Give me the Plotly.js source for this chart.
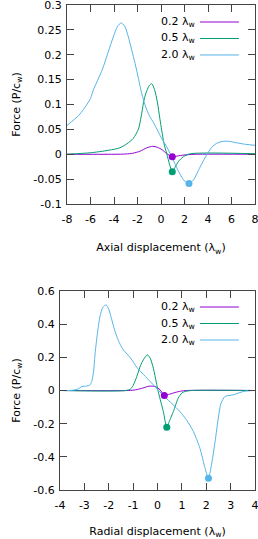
<!DOCTYPE html>
<html><head><meta charset="utf-8">
<script src="https://cdn.plot.ly/plotly-3.0.1.min.js"></script>
<style>html,body{margin:0;padding:0;background:#fff;}#chart{width:258px;height:539px;}</style>
</head><body><div id="chart"></div>
<script>
// ---- Axial (top panel) ----
const axialX02 = [-8, -4, -3, -2.4, -1.8, -1.2, -0.7, -0.3, 0.1, 0.5, 0.96, 1.5, 2.2, 3, 8];
const axialY02 = [0, 0, 0.0005, 0.002, 0.006, 0.013, 0.016, 0.014, 0.009, 0.001, -0.005, -0.003, -0.001, 0, 0];
const axialX05 = [-8, -6, -5, -4, -3.5, -2.9, -2.36, -1.93, -1.64, -1.45, -1.2, -1.0, -0.79, -0.55, -0.31, -0.1, 0.06, 0.25, 0.5, 0.75, 0.96, 1.2, 1.5, 1.9, 2.5, 8];
const axialY05 = [0, 0.003, 0.006, 0.01, 0.013, 0.021, 0.032, 0.05, 0.082, 0.109, 0.128, 0.138, 0.142, 0.13, 0.105, 0.072, 0.048, 0.022, 0.0, -0.022, -0.035, -0.026, -0.014, -0.005, 0.001, 0.001];
const axialX20 = [-8, -7, -6.6, -6, -5.76, -5, -4.5, -4.06, -3.7, -3.4, -3.1, -2.78, -2.5, -2.2, -1.9, -1.64, -1.3, -1.0, -0.6, -0.23, 0.1, 0.49, 1.05, 1.4, 1.76, 2.1, 2.38, 2.75, 3.32, 3.94, 4.4, 4.74, 5.3, 5.8, 6.44, 7.2, 8];
const axialY20 = [0.058, 0.078, 0.09, 0.112, 0.129, 0.17, 0.205, 0.236, 0.257, 0.264, 0.258, 0.236, 0.21, 0.182, 0.15, 0.122, 0.095, 0.078, 0.062, 0.045, 0.03, 0.015, -0.012, -0.03, -0.046, -0.056, -0.059, -0.052, -0.026, 0.001, 0.016, 0.022, 0.026, 0.026, 0.023, 0.02, 0.018];
const axialMarkX = [0.96, 0.96, 2.38];
const axialMarkY = [-0.005, -0.035, -0.059];
const axialXTicks = [-8, -6, -4, -2, 0, 2, 4, 6, 8];
const axialXTickText = ['-8', '-6', '-4', '-2', '0', '2', '4', '6', '8'];
const axialYTicks = [-0.1, -0.05, 0, 0.05, 0.1, 0.15, 0.2, 0.25, 0.3];
const axialYTickText = ['-0.1', '-0.05', '0', '0.05', '0.1', '0.15', '0.2', '0.25', '0.3'];

// ---- Radial (bottom panel) ----
const radialX02 = [-4, -1.2, -0.9, -0.6, -0.35, -0.1, 0.1, 0.28, 0.5, 0.72, 0.95, 1.2, 4];
const radialY02 = [0, 0, 0.004, 0.015, 0.026, 0.024, 0.005, -0.03, -0.022, -0.012, -0.004, 0, 0];
const radialX05 = [-4, -1.3, -1.1, -1.0, -0.85, -0.7, -0.58, -0.42, -0.3, -0.17, -0.05, 0.03, 0.14, 0.24, 0.38, 0.5, 0.65, 0.85, 1.0, 1.13, 1.4, 4];
const radialY05 = [0, 0, 0.01, 0.03, 0.084, 0.15, 0.185, 0.215, 0.195, 0.134, 0.05, -0.006, -0.07, -0.127, -0.222, -0.18, -0.127, -0.046, -0.015, -0.006, 0, 0];
const radialX20 = [-4, -3.5, -3.25, -3.1, -2.9, -2.78, -2.7, -2.62, -2.56, -2.46, -2.36, -2.25, -2.11, -2.0, -1.9, -1.8, -1.67, -1.54, -1.4, -1.1, -0.85, -0.5, -0.17, 0.28, 0.6, 0.92, 1.2, 1.47, 1.74, 1.95, 2.09, 2.2, 2.36, 2.5, 2.6, 2.77, 3.11, 3.52, 3.93, 4];
const radialY20 = [0, 0.001, 0.01, 0.024, 0.027, 0.032, 0.054, 0.12, 0.225, 0.35, 0.446, 0.5, 0.517, 0.49, 0.44, 0.385, 0.326, 0.28, 0.245, 0.195, 0.14, 0.085, 0.034, -0.036, -0.08, -0.127, -0.18, -0.247, -0.348, -0.469, -0.529, -0.46, -0.31, -0.16, -0.08, -0.036, -0.026, -0.006, 0, 0];
const radialMarkX = [0.28, 0.38, 2.09];
const radialMarkY = [-0.03, -0.222, -0.529];
const radialXTicks = [-4, -3, -2, -1, 0, 1, 2, 3, 4];
const radialXTickText = ['-4', '-3', '-2', '-1', '0', '1', '2', '3', '4'];
const radialYTicks = [-0.6, -0.4, -0.2, 0, 0.2, 0.4, 0.6];
const radialYTickText = ['-0.6', '-0.4', '-0.2', '0', '0.2', '0.4', '0.6'];

const seriesNames = ['0.2 λ<sub>w</sub>', '0.5 λ<sub>w</sub>', '2.0 λ<sub>w</sub>'];
const colors = ['#9400d3', '#009e73', '#56b4e9'];

const panels = [
  {xs:[axialX02, axialX05, axialX20], ys:[axialY02, axialY05, axialY20], mx:axialMarkX, my:axialMarkY, xa:'x', ya:'y'},
  {xs:[radialX02, radialX05, radialX20], ys:[radialY02, radialY05, radialY20], mx:radialMarkX, my:radialMarkY, xa:'x2', ya:'y2'}
];
const traces = [];
panels.forEach(p => {
  for (let i = 0; i < 3; i++) {
    traces.push({x:p.xs[i], y:p.ys[i], xaxis:p.xa, yaxis:p.ya, mode:'lines', name:seriesNames[i],
      line:{color:colors[i], width:1, shape:'spline', smoothing:0.7}, showlegend:false, hoverinfo:'skip'});
  }
  for (let i = 0; i < 3; i++) {
    traces.push({x:[p.mx[i]], y:[p.my[i]], xaxis:p.xa, yaxis:p.ya, mode:'markers',
      marker:{color:colors[i], size:7}, showlegend:false, hoverinfo:'skip'});
  }
});

const font = {family:'DejaVu Sans', size:11, color:'#000'};
const axBase = {showline:true, mirror:'ticks', linecolor:'#444', linewidth:1, ticks:'inside', ticklen:7,
  tickcolor:'#444', showgrid:false, zeroline:false, tickfont:font, tickmode:'array', ticklabeloverflow:'allow'};

// legend decorations (paper coordinates)
const legendRowsTop = [0.9592, 0.9286, 0.898];
const legendRowsBot = [0.4304, 0.3998, 0.3692];
const annotations = [];
const shapes = [];
[legendRowsTop, legendRowsBot].forEach(rows => {
  rows.forEach((ry, i) => {
    annotations.push({xref:'paper', yref:'paper', x:0.7636, y:ry, xanchor:'right', yanchor:'middle',
      text:seriesNames[i], showarrow:false, font:font});
    shapes.push({type:'line', xref:'paper', yref:'paper', x0:0.775, x1:0.926, y0:ry, y1:ry,
      line:{color:colors[i], width:1}});
  });
});

const layout = {
  width:258, height:539, margin:{l:0, r:0, t:0, b:0}, paper_bgcolor:'#fff', plot_bgcolor:'#fff',
  font:font, showlegend:false,
  xaxis:Object.assign({}, axBase, {domain:[0.2597, 0.9884], range:[-8, 8], anchor:'y',
    tickvals:axialXTicks, ticktext:axialXTickText, ticklabelstandoff:5,
    title:{text:'Axial displacement (λ<sub>w</sub>)', font:font, standoff:18}}),
  yaxis:Object.assign({}, axBase, {domain:[0.6215, 0.9907], range:[-0.1, 0.3], anchor:'x',
    tickvals:axialYTicks, ticktext:axialYTickText, ticklabelstandoff:2,
    title:{text:'Force (P/c<sub>w</sub>)', font:font, standoff:10}}),
  xaxis2:Object.assign({}, axBase, {domain:[0.2326, 0.9884], range:[-4, 4], anchor:'y2',
    tickvals:radialXTicks, ticktext:radialXTickText, ticklabelstandoff:5,
    title:{text:'Radial displacement (λ<sub>w</sub>)', font:font, standoff:18}}),
  yaxis2:Object.assign({}, axBase, {domain:[0.0909, 0.4601], range:[-0.6, 0.6], anchor:'x2',
    tickvals:radialYTicks, ticktext:radialYTickText, ticklabelstandoff:2,
    title:{text:'Force (P/c<sub>w</sub>)', font:font, standoff:10}}),
  annotations:annotations, shapes:shapes
};
Plotly.newPlot('chart', traces, layout, {staticPlot:true, displayModeBar:false});
</script></body></html>
